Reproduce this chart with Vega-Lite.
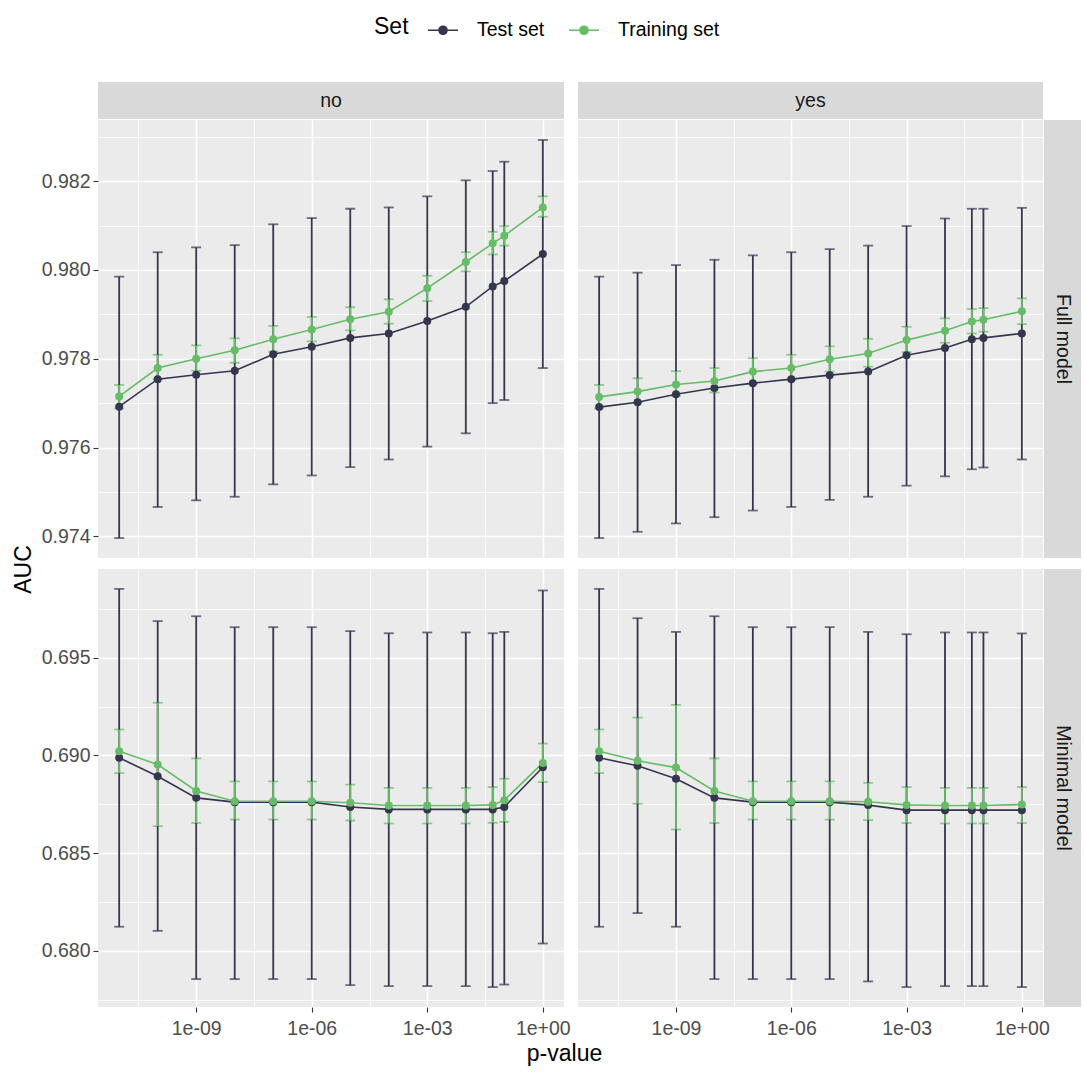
{
  "$schema": "https://vega.github.io/schema/vega-lite/v6.json",
  "padding": {"left": 12, "top": 14, "right": 2, "bottom": 5},
  "config": {
    "font": "Liberation Sans",
    "view": {"stroke": null},
    "axis": {"domain": false, "gridColor": "#FFFFFF", "tickColor": "#333333", "tickSize": 5, "tickWidth": 1.1, "labelColor": "#4D4D4D", "labelFontSize": 19.5, "labelPadding": 3, "titleFontSize": 23, "titleFontWeight": "normal", "titleColor": "#000000"},
    "legend": {"orient": "top", "direction": "horizontal", "titleOrient": "left", "titleFontSize": 23, "titleFontWeight": "normal", "titleColor": "#000000", "titlePadding": 18, "labelFontSize": 19.5, "labelColor": "#000000", "labelOffset": 18, "columnPadding": 20, "symbolType": "M-1,0H1M-0.27,0a0.27,0.27 0 1,0 0.54,0a0.27,0.27 0 1,0 -0.54,0", "symbolSize": 900, "symbolStrokeWidth": 1.6, "offset": 42, "layout": {"top": {"anchor": "middle"}}}
  },
  "data": {"values": [
    {"m":"Full model","s":"no","set":"Test set","p":1e-11,"auc":0.97692,"lo":0.97396,"hi":0.97985},
    {"m":"Full model","s":"no","set":"Test set","p":1e-10,"auc":0.97754,"lo":0.97466,"hi":0.98040},
    {"m":"Full model","s":"no","set":"Test set","p":1e-9,"auc":0.97764,"lo":0.97481,"hi":0.98051},
    {"m":"Full model","s":"no","set":"Test set","p":1e-8,"auc":0.97773,"lo":0.97489,"hi":0.98056},
    {"m":"Full model","s":"no","set":"Test set","p":1e-7,"auc":0.97810,"lo":0.97517,"hi":0.98103},
    {"m":"Full model","s":"no","set":"Test set","p":1e-6,"auc":0.97827,"lo":0.97537,"hi":0.98117},
    {"m":"Full model","s":"no","set":"Test set","p":1e-5,"auc":0.97847,"lo":0.97556,"hi":0.98138},
    {"m":"Full model","s":"no","set":"Test set","p":1e-4,"auc":0.97857,"lo":0.97573,"hi":0.98141},
    {"m":"Full model","s":"no","set":"Test set","p":1e-3,"auc":0.97885,"lo":0.97602,"hi":0.98166},
    {"m":"Full model","s":"no","set":"Test set","p":1e-2,"auc":0.97917,"lo":0.97632,"hi":0.98202},
    {"m":"Full model","s":"no","set":"Test set","p":0.05,"auc":0.97963,"lo":0.97700,"hi":0.98223},
    {"m":"Full model","s":"no","set":"Test set","p":0.1,"auc":0.97975,"lo":0.97707,"hi":0.98244},
    {"m":"Full model","s":"no","set":"Test set","p":1,"auc":0.98036,"lo":0.97779,"hi":0.98293},
    {"m":"Full model","s":"no","set":"Training set","p":1e-11,"auc":0.97715,"lo":0.97688,"hi":0.97741},
    {"m":"Full model","s":"no","set":"Training set","p":1e-10,"auc":0.97779,"lo":0.97754,"hi":0.97809},
    {"m":"Full model","s":"no","set":"Training set","p":1e-9,"auc":0.97800,"lo":0.97773,"hi":0.97830},
    {"m":"Full model","s":"no","set":"Training set","p":1e-8,"auc":0.97819,"lo":0.97791,"hi":0.97846},
    {"m":"Full model","s":"no","set":"Training set","p":1e-7,"auc":0.97844,"lo":0.97816,"hi":0.97874},
    {"m":"Full model","s":"no","set":"Training set","p":1e-6,"auc":0.97866,"lo":0.97839,"hi":0.97894},
    {"m":"Full model","s":"no","set":"Training set","p":1e-5,"auc":0.97889,"lo":0.97864,"hi":0.97916},
    {"m":"Full model","s":"no","set":"Training set","p":1e-4,"auc":0.97906,"lo":0.97879,"hi":0.97934},
    {"m":"Full model","s":"no","set":"Training set","p":1e-3,"auc":0.97959,"lo":0.97930,"hi":0.97987},
    {"m":"Full model","s":"no","set":"Training set","p":1e-2,"auc":0.98018,"lo":0.97997,"hi":0.98040},
    {"m":"Full model","s":"no","set":"Training set","p":0.05,"auc":0.98060,"lo":0.98035,"hi":0.98086},
    {"m":"Full model","s":"no","set":"Training set","p":0.1,"auc":0.98077,"lo":0.98055,"hi":0.98099},
    {"m":"Full model","s":"no","set":"Training set","p":1,"auc":0.98141,"lo":0.98120,"hi":0.98166},
    {"m":"Full model","s":"yes","set":"Test set","p":1e-11,"auc":0.97691,"lo":0.97396,"hi":0.97985},
    {"m":"Full model","s":"yes","set":"Test set","p":1e-10,"auc":0.97702,"lo":0.97410,"hi":0.97994},
    {"m":"Full model","s":"yes","set":"Test set","p":1e-9,"auc":0.97720,"lo":0.97429,"hi":0.98011},
    {"m":"Full model","s":"yes","set":"Test set","p":1e-8,"auc":0.97734,"lo":0.97443,"hi":0.98023},
    {"m":"Full model","s":"yes","set":"Test set","p":1e-7,"auc":0.97745,"lo":0.97458,"hi":0.98033},
    {"m":"Full model","s":"yes","set":"Test set","p":1e-6,"auc":0.97754,"lo":0.97466,"hi":0.98040},
    {"m":"Full model","s":"yes","set":"Test set","p":1e-5,"auc":0.97763,"lo":0.97482,"hi":0.98047},
    {"m":"Full model","s":"yes","set":"Test set","p":1e-4,"auc":0.97771,"lo":0.97489,"hi":0.98055},
    {"m":"Full model","s":"yes","set":"Test set","p":1e-3,"auc":0.97808,"lo":0.97514,"hi":0.98099},
    {"m":"Full model","s":"yes","set":"Test set","p":1e-2,"auc":0.97824,"lo":0.97535,"hi":0.98116},
    {"m":"Full model","s":"yes","set":"Test set","p":0.05,"auc":0.97844,"lo":0.97551,"hi":0.98138},
    {"m":"Full model","s":"yes","set":"Test set","p":0.1,"auc":0.97847,"lo":0.97555,"hi":0.98138},
    {"m":"Full model","s":"yes","set":"Test set","p":1,"auc":0.97857,"lo":0.97573,"hi":0.98140},
    {"m":"Full model","s":"yes","set":"Training set","p":1e-11,"auc":0.97714,"lo":0.97688,"hi":0.97741},
    {"m":"Full model","s":"yes","set":"Training set","p":1e-10,"auc":0.97726,"lo":0.97701,"hi":0.97756},
    {"m":"Full model","s":"yes","set":"Training set","p":1e-9,"auc":0.97742,"lo":0.97716,"hi":0.97772},
    {"m":"Full model","s":"yes","set":"Training set","p":1e-8,"auc":0.97750,"lo":0.97724,"hi":0.97779},
    {"m":"Full model","s":"yes","set":"Training set","p":1e-7,"auc":0.97771,"lo":0.97743,"hi":0.97801},
    {"m":"Full model","s":"yes","set":"Training set","p":1e-6,"auc":0.97779,"lo":0.97752,"hi":0.97809},
    {"m":"Full model","s":"yes","set":"Training set","p":1e-5,"auc":0.97799,"lo":0.97771,"hi":0.97828},
    {"m":"Full model","s":"yes","set":"Training set","p":1e-4,"auc":0.97812,"lo":0.97782,"hi":0.97845},
    {"m":"Full model","s":"yes","set":"Training set","p":1e-3,"auc":0.97842,"lo":0.97815,"hi":0.97872},
    {"m":"Full model","s":"yes","set":"Training set","p":1e-2,"auc":0.97863,"lo":0.97836,"hi":0.97891},
    {"m":"Full model","s":"yes","set":"Training set","p":0.05,"auc":0.97884,"lo":0.97857,"hi":0.97912},
    {"m":"Full model","s":"yes","set":"Training set","p":0.1,"auc":0.97888,"lo":0.97861,"hi":0.97914},
    {"m":"Full model","s":"yes","set":"Training set","p":1,"auc":0.97907,"lo":0.97878,"hi":0.97936},
    {"m":"Minimal model","s":"no","set":"Test set","p":1e-11,"auc":0.68988,"lo":0.68123,"hi":0.69853},
    {"m":"Minimal model","s":"no","set":"Test set","p":1e-10,"auc":0.68894,"lo":0.68102,"hi":0.69688},
    {"m":"Minimal model","s":"no","set":"Test set","p":1e-9,"auc":0.68783,"lo":0.67855,"hi":0.69713},
    {"m":"Minimal model","s":"no","set":"Test set","p":1e-8,"auc":0.68761,"lo":0.67855,"hi":0.69657},
    {"m":"Minimal model","s":"no","set":"Test set","p":1e-7,"auc":0.68761,"lo":0.67855,"hi":0.69657},
    {"m":"Minimal model","s":"no","set":"Test set","p":1e-6,"auc":0.68761,"lo":0.67855,"hi":0.69657},
    {"m":"Minimal model","s":"no","set":"Test set","p":1e-5,"auc":0.68736,"lo":0.67824,"hi":0.69637},
    {"m":"Minimal model","s":"no","set":"Test set","p":1e-4,"auc":0.68724,"lo":0.67819,"hi":0.69626},
    {"m":"Minimal model","s":"no","set":"Test set","p":1e-3,"auc":0.68724,"lo":0.67819,"hi":0.69630},
    {"m":"Minimal model","s":"no","set":"Test set","p":1e-2,"auc":0.68724,"lo":0.67819,"hi":0.69630},
    {"m":"Minimal model","s":"no","set":"Test set","p":0.05,"auc":0.68724,"lo":0.67814,"hi":0.69626},
    {"m":"Minimal model","s":"no","set":"Test set","p":0.1,"auc":0.68736,"lo":0.67827,"hi":0.69633},
    {"m":"Minimal model","s":"no","set":"Test set","p":1,"auc":0.68940,"lo":0.68037,"hi":0.69845},
    {"m":"Minimal model","s":"no","set":"Training set","p":1e-11,"auc":0.69022,"lo":0.68910,"hi":0.69133},
    {"m":"Minimal model","s":"no","set":"Training set","p":1e-10,"auc":0.68954,"lo":0.68638,"hi":0.69270},
    {"m":"Minimal model","s":"no","set":"Training set","p":1e-9,"auc":0.68818,"lo":0.68654,"hi":0.68985},
    {"m":"Minimal model","s":"no","set":"Training set","p":1e-8,"auc":0.68766,"lo":0.68672,"hi":0.68867},
    {"m":"Minimal model","s":"no","set":"Training set","p":1e-7,"auc":0.68766,"lo":0.68672,"hi":0.68867},
    {"m":"Minimal model","s":"no","set":"Training set","p":1e-6,"auc":0.68766,"lo":0.68672,"hi":0.68867},
    {"m":"Minimal model","s":"no","set":"Training set","p":1e-5,"auc":0.68758,"lo":0.68667,"hi":0.68851},
    {"m":"Minimal model","s":"no","set":"Training set","p":1e-4,"auc":0.68744,"lo":0.68652,"hi":0.68834},
    {"m":"Minimal model","s":"no","set":"Training set","p":1e-3,"auc":0.68744,"lo":0.68652,"hi":0.68834},
    {"m":"Minimal model","s":"no","set":"Training set","p":1e-2,"auc":0.68744,"lo":0.68652,"hi":0.68834},
    {"m":"Minimal model","s":"no","set":"Training set","p":0.05,"auc":0.68747,"lo":0.68655,"hi":0.68838},
    {"m":"Minimal model","s":"no","set":"Training set","p":0.1,"auc":0.68771,"lo":0.68660,"hi":0.68881},
    {"m":"Minimal model","s":"no","set":"Training set","p":1,"auc":0.68962,"lo":0.68864,"hi":0.69061},
    {"m":"Minimal model","s":"yes","set":"Test set","p":1e-11,"auc":0.68988,"lo":0.68123,"hi":0.69853},
    {"m":"Minimal model","s":"yes","set":"Test set","p":1e-10,"auc":0.68947,"lo":0.68193,"hi":0.69703},
    {"m":"Minimal model","s":"yes","set":"Test set","p":1e-9,"auc":0.68881,"lo":0.68123,"hi":0.69633},
    {"m":"Minimal model","s":"yes","set":"Test set","p":1e-8,"auc":0.68783,"lo":0.67855,"hi":0.69713},
    {"m":"Minimal model","s":"yes","set":"Test set","p":1e-7,"auc":0.68761,"lo":0.67855,"hi":0.69657},
    {"m":"Minimal model","s":"yes","set":"Test set","p":1e-6,"auc":0.68761,"lo":0.67855,"hi":0.69657},
    {"m":"Minimal model","s":"yes","set":"Test set","p":1e-5,"auc":0.68761,"lo":0.67855,"hi":0.69657},
    {"m":"Minimal model","s":"yes","set":"Test set","p":1e-4,"auc":0.68746,"lo":0.67843,"hi":0.69633},
    {"m":"Minimal model","s":"yes","set":"Test set","p":1e-3,"auc":0.68720,"lo":0.67814,"hi":0.69621},
    {"m":"Minimal model","s":"yes","set":"Test set","p":1e-2,"auc":0.68720,"lo":0.67819,"hi":0.69630},
    {"m":"Minimal model","s":"yes","set":"Test set","p":0.05,"auc":0.68720,"lo":0.67819,"hi":0.69630},
    {"m":"Minimal model","s":"yes","set":"Test set","p":0.1,"auc":0.68720,"lo":0.67819,"hi":0.69630},
    {"m":"Minimal model","s":"yes","set":"Test set","p":1,"auc":0.68720,"lo":0.67814,"hi":0.69625},
    {"m":"Minimal model","s":"yes","set":"Training set","p":1e-11,"auc":0.69022,"lo":0.68910,"hi":0.69133},
    {"m":"Minimal model","s":"yes","set":"Training set","p":1e-10,"auc":0.68973,"lo":0.68753,"hi":0.69194},
    {"m":"Minimal model","s":"yes","set":"Training set","p":1e-9,"auc":0.68938,"lo":0.68621,"hi":0.69259},
    {"m":"Minimal model","s":"yes","set":"Training set","p":1e-8,"auc":0.68818,"lo":0.68654,"hi":0.68985},
    {"m":"Minimal model","s":"yes","set":"Training set","p":1e-7,"auc":0.68766,"lo":0.68672,"hi":0.68867},
    {"m":"Minimal model","s":"yes","set":"Training set","p":1e-6,"auc":0.68766,"lo":0.68672,"hi":0.68867},
    {"m":"Minimal model","s":"yes","set":"Training set","p":1e-5,"auc":0.68766,"lo":0.68672,"hi":0.68867},
    {"m":"Minimal model","s":"yes","set":"Training set","p":1e-4,"auc":0.68763,"lo":0.68669,"hi":0.68860},
    {"m":"Minimal model","s":"yes","set":"Training set","p":1e-3,"auc":0.68747,"lo":0.68654,"hi":0.68838},
    {"m":"Minimal model","s":"yes","set":"Training set","p":1e-2,"auc":0.68744,"lo":0.68652,"hi":0.68834},
    {"m":"Minimal model","s":"yes","set":"Training set","p":0.05,"auc":0.68744,"lo":0.68652,"hi":0.68834},
    {"m":"Minimal model","s":"yes","set":"Training set","p":0.1,"auc":0.68744,"lo":0.68652,"hi":0.68834},
    {"m":"Minimal model","s":"yes","set":"Training set","p":1,"auc":0.68749,"lo":0.68654,"hi":0.68838}
  ]},
  "columns": 4,
  "spacing": 1,
  "bounds": "flush",
  "align": "each",
  "concat": [
    {"width": 466, "height": 37, "view": {"fill": "#D9D9D9", "stroke": null}, "data": {"values": [{"lab": "no"}]}, "mark": {"type": "text", "fontSize": 19.5, "color": "#1A1A1A"}, "encoding": {"text": {"field": "lab"}}},
    {"width": 12, "height": 37, "data": {"values": []}, "mark": "point", "encoding": {}},
    {"width": 465, "height": 37, "view": {"fill": "#D9D9D9", "stroke": null}, "data": {"values": [{"lab": "yes"}]}, "mark": {"type": "text", "fontSize": 19.5, "color": "#1A1A1A"}, "encoding": {"text": {"field": "lab"}}},
    {"width": 37, "height": 37, "data": {"values": []}, "mark": "point", "encoding": {}},

    {"width": 466, "height": 438, "view": {"fill": "#EBEBEB", "stroke": null},
     "transform": [{"filter": "datum.m == 'Full model' && datum.s == 'no'"}],
     "encoding": {
       "x": {"field": "p", "type": "quantitative", "scale": {"type": "log", "domain": [2.8184e-12, 3.5481], "nice": false},
             "axis": {"values": [3.16227766e-11, 1e-9, 3.16227766e-8, 1e-6, 3.16227766e-5, 1e-3, 3.16227766e-2, 1], "labels": false, "ticks": false, "title": null, "gridWidth": {"condition": {"test": "round(log(datum.value)/LN10*2) % 6 == 0", "value": 1.6}, "value": 0.8}}},
       "color": {"field": "set", "type": "nominal", "title": "Set", "scale": {"domain": ["Test set", "Training set"], "range": ["#35364E", "#67BC67"]},
                 "legend": {"encode": {"symbols": {"update": {"fill": {"scale": "color", "field": "value"}, "stroke": {"scale": "color", "field": "value"}}}}}}
     },
     "layer": [
       {"mark": {"type": "errorbar", "ticks": true, "size": 10, "thickness": 1.8},
        "encoding": {"y": {"field": "lo", "type": "quantitative", "scale": {"domain": [0.97351, 0.98338], "nice": false, "zero": false},
                           "axis": {"title": null, "values": [0.974, 0.975, 0.976, 0.977, 0.978, 0.979, 0.98, 0.981, 0.982, 0.983], "labelExpr": "round(datum.value*1000) % 2 == 0 ? format(datum.value, '.3f') : ''", "tickOpacity": {"condition": {"test": "round(datum.value*1000) % 2 == 0", "value": 1}, "value": 0}, "gridWidth": {"condition": {"test": "round(datum.value*1000) % 2 == 0", "value": 1.6}, "value": 0.8}}},
                     "y2": {"field": "hi"}}},
       {"mark": {"type": "line", "strokeWidth": 1.6}, "encoding": {"y": {"field": "auc", "type": "quantitative"}}},
       {"mark": {"type": "point", "filled": true, "size": 64, "opacity": 1}, "encoding": {"y": {"field": "auc", "type": "quantitative"}}}
     ]},
    {"width": 12, "height": 1, "data": {"values": []}, "mark": "point", "encoding": {}},
    {"width": 465, "height": 438, "view": {"fill": "#EBEBEB", "stroke": null},
     "transform": [{"filter": "datum.m == 'Full model' && datum.s == 'yes'"}],
     "encoding": {
       "x": {"field": "p", "type": "quantitative", "scale": {"type": "log", "domain": [2.8184e-12, 3.5481], "nice": false},
             "axis": {"values": [3.16227766e-11, 1e-9, 3.16227766e-8, 1e-6, 3.16227766e-5, 1e-3, 3.16227766e-2, 1], "labels": false, "ticks": false, "title": null, "gridWidth": {"condition": {"test": "round(log(datum.value)/LN10*2) % 6 == 0", "value": 1.6}, "value": 0.8}}},
       "color": {"field": "set", "type": "nominal", "title": "Set", "scale": {"domain": ["Test set", "Training set"], "range": ["#35364E", "#67BC67"]},
                 "legend": {"encode": {"symbols": {"update": {"fill": {"scale": "color", "field": "value"}, "stroke": {"scale": "color", "field": "value"}}}}}}
     },
     "layer": [
       {"mark": {"type": "errorbar", "ticks": true, "size": 10, "thickness": 1.8},
        "encoding": {"y": {"field": "lo", "type": "quantitative", "scale": {"domain": [0.97351, 0.98338], "nice": false, "zero": false},
                           "axis": {"title": null, "labels": false, "ticks": false, "values": [0.974, 0.975, 0.976, 0.977, 0.978, 0.979, 0.98, 0.981, 0.982, 0.983], "gridWidth": {"condition": {"test": "round(datum.value*1000) % 2 == 0", "value": 1.6}, "value": 0.8}}},
                     "y2": {"field": "hi"}}},
       {"mark": {"type": "line", "strokeWidth": 1.6}, "encoding": {"y": {"field": "auc", "type": "quantitative"}}},
       {"mark": {"type": "point", "filled": true, "size": 64, "opacity": 1}, "encoding": {"y": {"field": "auc", "type": "quantitative"}}}
     ]},
    {"width": 37, "height": 438, "view": {"fill": "#D9D9D9", "stroke": null}, "data": {"values": [{"lab": "Full model"}]}, "mark": {"type": "text", "fontSize": 19.5, "color": "#1A1A1A", "angle": 90}, "encoding": {"text": {"field": "lab"}}},

    {"width": 1, "height": 9, "data": {"values": []}, "mark": "point", "encoding": {}},
    {"width": 1, "height": 9, "data": {"values": []}, "mark": "point", "encoding": {}},
    {"width": 1, "height": 9, "data": {"values": []}, "mark": "point", "encoding": {}},
    {"width": 1, "height": 9, "data": {"values": []}, "mark": "point", "encoding": {}},

    {"width": 466, "height": 438, "view": {"fill": "#EBEBEB", "stroke": null},
     "transform": [{"filter": "datum.m == 'Minimal model' && datum.s == 'no'"}],
     "encoding": {
       "x": {"field": "p", "type": "quantitative", "scale": {"type": "log", "domain": [2.8184e-12, 3.5481], "nice": false},
             "axis": {"title": "p-value", "titleAnchor": "end", "titleAlign": "center", "titlePadding": 5, "labelPadding": 7, "values": [3.16227766e-11, 1e-9, 3.16227766e-8, 1e-6, 3.16227766e-5, 1e-3, 3.16227766e-2, 1],
                      "labelExpr": "round(log(datum.value)/LN10*2) % 6 == 0 ? (datum.value >= 0.5 ? '1e+00' : '1e-0' + (-round(log(datum.value)/LN10))) : ''",
                      "tickOpacity": {"condition": {"test": "round(log(datum.value)/LN10*2) % 6 == 0", "value": 1}, "value": 0},
                      "gridWidth": {"condition": {"test": "round(log(datum.value)/LN10*2) % 6 == 0", "value": 1.6}, "value": 0.8}}},
       "color": {"field": "set", "type": "nominal", "title": "Set", "scale": {"domain": ["Test set", "Training set"], "range": ["#35364E", "#67BC67"]},
                 "legend": {"encode": {"symbols": {"update": {"fill": {"scale": "color", "field": "value"}, "stroke": {"scale": "color", "field": "value"}}}}}}
     },
     "layer": [
       {"mark": {"type": "errorbar", "ticks": true, "size": 10, "thickness": 1.8},
        "encoding": {"y": {"field": "lo", "type": "quantitative", "scale": {"domain": [0.67712, 0.69955], "nice": false, "zero": false},
                           "axis": {"title": "AUC", "titleAnchor": "end", "titleAlign": "center", "titlePadding": 6, "values": [0.6775, 0.68, 0.6825, 0.685, 0.6875, 0.69, 0.6925, 0.695, 0.6975], "labelExpr": "round(datum.value*10000) % 50 == 0 ? format(datum.value, '.3f') : ''", "tickOpacity": {"condition": {"test": "round(datum.value*10000) % 50 == 0", "value": 1}, "value": 0}, "gridWidth": {"condition": {"test": "round(datum.value*10000) % 50 == 0", "value": 1.6}, "value": 0.8}}},
                     "y2": {"field": "hi"}}},
       {"mark": {"type": "line", "strokeWidth": 1.6}, "encoding": {"y": {"field": "auc", "type": "quantitative"}}},
       {"mark": {"type": "point", "filled": true, "size": 64, "opacity": 1}, "encoding": {"y": {"field": "auc", "type": "quantitative"}}}
     ]},
    {"width": 12, "height": 1, "data": {"values": []}, "mark": "point", "encoding": {}},
    {"width": 465, "height": 438, "view": {"fill": "#EBEBEB", "stroke": null},
     "transform": [{"filter": "datum.m == 'Minimal model' && datum.s == 'yes'"}],
     "encoding": {
       "x": {"field": "p", "type": "quantitative", "scale": {"type": "log", "domain": [2.8184e-12, 3.5481], "nice": false},
             "axis": {"title": null, "labelPadding": 7, "values": [3.16227766e-11, 1e-9, 3.16227766e-8, 1e-6, 3.16227766e-5, 1e-3, 3.16227766e-2, 1],
                      "labelExpr": "round(log(datum.value)/LN10*2) % 6 == 0 ? (datum.value >= 0.5 ? '1e+00' : '1e-0' + (-round(log(datum.value)/LN10))) : ''",
                      "tickOpacity": {"condition": {"test": "round(log(datum.value)/LN10*2) % 6 == 0", "value": 1}, "value": 0},
                      "gridWidth": {"condition": {"test": "round(log(datum.value)/LN10*2) % 6 == 0", "value": 1.6}, "value": 0.8}}},
       "color": {"field": "set", "type": "nominal", "title": "Set", "scale": {"domain": ["Test set", "Training set"], "range": ["#35364E", "#67BC67"]},
                 "legend": {"encode": {"symbols": {"update": {"fill": {"scale": "color", "field": "value"}, "stroke": {"scale": "color", "field": "value"}}}}}}
     },
     "layer": [
       {"mark": {"type": "errorbar", "ticks": true, "size": 10, "thickness": 1.8},
        "encoding": {"y": {"field": "lo", "type": "quantitative", "scale": {"domain": [0.67712, 0.69955], "nice": false, "zero": false},
                           "axis": {"title": null, "labels": false, "ticks": false, "values": [0.6775, 0.68, 0.6825, 0.685, 0.6875, 0.69, 0.6925, 0.695, 0.6975], "gridWidth": {"condition": {"test": "round(datum.value*10000) % 50 == 0", "value": 1.6}, "value": 0.8}}},
                     "y2": {"field": "hi"}}},
       {"mark": {"type": "line", "strokeWidth": 1.6}, "encoding": {"y": {"field": "auc", "type": "quantitative"}}},
       {"mark": {"type": "point", "filled": true, "size": 64, "opacity": 1}, "encoding": {"y": {"field": "auc", "type": "quantitative"}}}
     ]},
    {"width": 37, "height": 438, "view": {"fill": "#D9D9D9", "stroke": null}, "data": {"values": [{"lab": "Minimal model"}]}, "mark": {"type": "text", "fontSize": 19.5, "color": "#1A1A1A", "angle": 90}, "encoding": {"text": {"field": "lab"}}}
  ]
}
